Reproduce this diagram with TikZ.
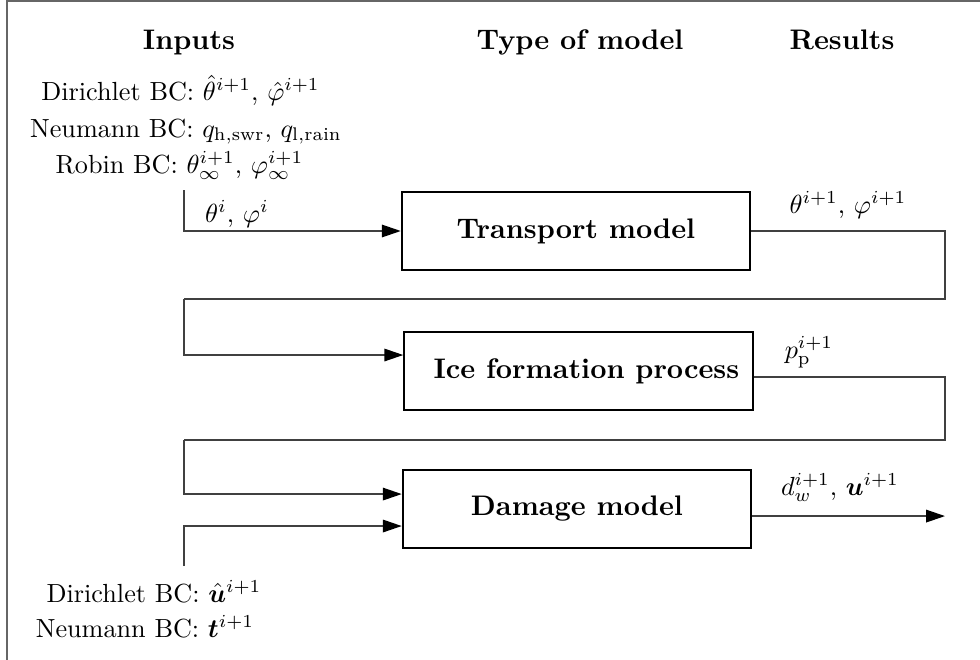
\documentclass[tikz,border=0pt]{standalone}
\usepackage{amsmath,bm}
\usepackage{fontspec}
\usetikzlibrary{arrows.meta}

\tikzset{every picture/.style={line width=0.5pt}}
\tikzset{
	modelbox/.style={draw, line width=0.8pt, inner sep=0pt, minimum width=133pt, minimum height=29.8pt, font=\fontsize{10.8}{13}\selectfont\bfseries},
	heading/.style={anchor=base, font=\fontsize{10.8}{13}\selectfont\bfseries},
	lbl/.style={anchor=base, inner sep=0pt},
	flow/.style={draw=black!75, -{Triangle[length=7.2pt,width=4.8pt,black]}},
	wire/.style={draw=black!75}
}

\begin{document}
\begin{tikzpicture}[x=0.3817pt,y=0.3817pt,yscale=-1,xscale=1]
	\useasboundingbox (0,0) rectangle (980,660);

	%Straight Lines [frame]
	\draw [black!60, line width=0.7pt] (7,660) -- (7,1) -- (980,1) ;

	% Text Node
	\node [heading] (hdin) at (189,49) {Inputs};
	% Text Node
	\node [heading] (hdmodel) at (580,49) {Type of model};
	% Text Node
	\node [heading] (hdres) at (842,49) {Results};

	% Text Node
	\node [lbl] (bcdir) at (180.5,100) {Dirichlet BC: $\hat{\theta}^{i+1}$, $\hat{\varphi}^{i+1}$};
	% Text Node
	\node [lbl] (bcneu) at (186,137) {Neumann BC: $q_{\mathrm{h,swr}}$, $q_{\mathrm{l,rain}}$};
	% Text Node
	\node [lbl] (bcrob) at (179.5,173) {Robin BC: $\theta^{i+1}_{\infty}$, $\varphi^{i+1}_{\infty}$};
	% Text Node
	\node [lbl] (oldval) at (237,222) {$\theta^{i}$, $\varphi^{i}$};

	%Shape: Rectangle
	\node [modelbox] (transport) at (576,231) {Transport model};
	%Shape: Rectangle
	\node [modelbox] (ice) at (578.5,371) {\hspace{6pt}Ice formation process};
	%Shape: Rectangle
	\node [modelbox] (damage) at (577,509) {Damage model};

	% Text Node
	\node [lbl] (thetanew) at (848,213) {$\theta^{i+1}$, $\varphi^{i+1}$};
	% Text Node
	\node [lbl] (ppnew) at (809,358) {$p_{\mathrm{p}}^{i+1}$};
	% Text Node
	\node [lbl] (dnew) at (840,495) {$d_w^{i+1}$, $\bm{u}^{i+1}$};

	% Text Node
	\node [lbl] (mdir) at (154,602) {Dirichlet BC: $\bm{\hat{u}}^{i+1}$};
	% Text Node
	\node [lbl] (mneu) at (145,637) {Neumann BC: $\bm{t}^{i+1}$};

	% corner points of the connectors (yshift follows yscale=-1, so + is down)
	\coordinate (inTop) at (184,190);
	\coordinate (loopA) at (945,299);
	\coordinate (backA) at (184,299);
	\coordinate (loopB) at (945,440);
	\coordinate (backB) at (184,440);
	\coordinate (inBot) at (184,566);
	\coordinate (outEnd) at (945,516);

	%Straight Lines
	\draw [flow] (inTop) |- (transport.west) ;
	%Straight Lines
	\draw [wire] (transport.east) -| (loopA) -- (backA) ;
	\draw [flow] (backA) |- ([yshift=-6.1pt]ice.west) ;
	%Straight Lines
	\draw [wire] ([yshift=2.3pt]ice.east) -| (loopB) -- (backB) ;
	\draw [flow] (backB) |- ([yshift=-5.7pt]damage.west) ;
	%Straight Lines
	\draw [flow] (inBot) |- ([yshift=6.5pt]damage.west) ;
	%Straight Lines
	\draw [flow] ([yshift=2.7pt]damage.east) -- ([yshift=2.7pt]damage.east -| outEnd) ;

\end{tikzpicture}
\end{document}
